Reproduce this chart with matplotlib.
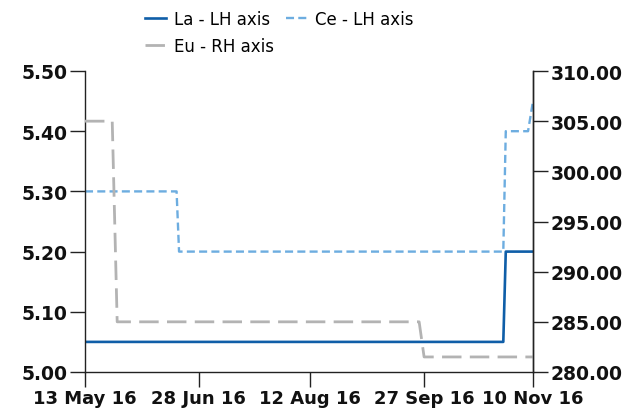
import matplotlib
matplotlib.use("Agg")
import matplotlib.pyplot as plt
import matplotlib.dates as mdates
import numpy as np
import pandas as pd

# step series
la_dates = ["2016-05-13", "2016-10-29", "2016-10-30", "2016-11-10"]
la_vals = [5.05, 5.05, 5.20, 5.20]

ce_dates = ["2016-05-13", "2016-06-19", "2016-06-20", "2016-10-29",
            "2016-10-30", "2016-11-08", "2016-11-10"]
ce_vals = [5.30, 5.30, 5.20, 5.20, 5.40, 5.40, 5.45]

eu_dates = ["2016-05-13", "2016-05-24", "2016-05-26", "2016-09-25",
            "2016-09-27", "2016-11-10"]
eu_vals = [305.0, 305.0, 285.0, 285.0, 281.5, 281.5]

x_ticks = ["2016-05-13", "2016-06-28", "2016-08-12", "2016-09-27", "2016-11-10"]
left_ticks = [5.00, 5.10, 5.20, 5.30, 5.40, 5.50]
right_ticks = [280, 285, 290, 295, 300, 305, 310]

c_la = "#0f5ea8"
c_ce = "#6dade0"
c_eu = "#b3b3b3"
c_ax = "#222222"

fig = plt.figure(figsize=(6.33, 4.14), dpi=100)
ax = fig.add_axes([85 / 633, 1 - 373 / 414, 448 / 633, 301 / 414])
ax2 = ax.twinx()

l1, = ax.plot(pd.to_datetime(la_dates), la_vals, color=c_la, lw=1.9,
              label="La - LH axis")
l2, = ax.plot(pd.to_datetime(ce_dates), ce_vals, color=c_ce, lw=1.7,
              dashes=(3.4, 1.8), label="Ce - LH axis")
l3, = ax2.plot(pd.to_datetime(eu_dates), eu_vals, color=c_eu, lw=2.0,
               dashes=(7.0, 3.0), label="Eu - RH axis")

xt = pd.to_datetime(x_ticks)
ax.set_xlim(xt[0], xt[-1])
ax.set_xticks(xt)
ax.xaxis.set_major_formatter(mdates.DateFormatter("%d %b %y"))
ax.set_ylim(5.0, 5.5)
ax.set_yticks(left_ticks)
ax.set_yticklabels([f"{v:.2f}" for v in left_ticks])
ax2.set_ylim(280, 310)
ax2.set_yticks(right_ticks)
ax2.set_yticklabels([f"{v:.2f}" for v in right_ticks])

for a in (ax, ax2):
    a.spines["top"].set_visible(False)
    for s in a.spines.values():
        s.set_color(c_ax)
        s.set_linewidth(1.0)
    a.tick_params(length=10.5, width=1.0, color=c_ax, labelsize=13.5,
                  labelcolor="#111111", pad=2)
    for lab in a.get_xticklabels() + a.get_yticklabels():
        lab.set_fontweight("bold")
ax.tick_params(axis="x", labelsize=13)
ax2.spines["left"].set_visible(False)
ax2.spines["bottom"].set_visible(False)

# column-wise fill: La, Eu in first column, Ce in second
fig.legend(handles=[l1, l3, l2], loc="upper left", bbox_to_anchor=(0.205, 1.01),
           ncol=2, frameon=False, fontsize=12, handlelength=1.3,
           handletextpad=0.45, columnspacing=0.7, labelspacing=0.55)

fig.savefig("out.png", dpi=100)
